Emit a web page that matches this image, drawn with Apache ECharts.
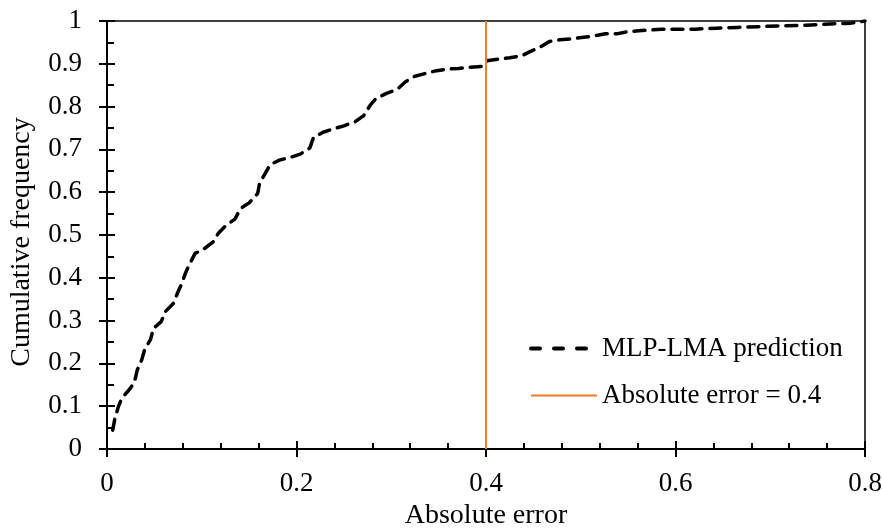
<!DOCTYPE html>
<html><head><meta charset="utf-8">
<script src="https://cdn.jsdelivr.net/npm/echarts@6/dist/echarts.min.js"></script>
<style>html,body{margin:0;padding:0;background:#fff}#c{width:882px;height:528px}</style>
</head><body><div id="c"></div>
<script>
const errX = [0.006,0.0084,0.012,0.0155,0.0236,0.0288,0.032,0.0366,0.040,0.046,0.049,0.057,0.062,0.070,0.0745,0.079,0.083,0.0876,0.093,0.102,0.112,0.1175,0.126,0.135,0.141,0.150,0.159,0.161,0.167,0.172,0.182,0.193,0.204,0.214,0.218,0.228,0.239,0.250,0.262,0.271,0.278,0.284,0.295,0.306,0.315,0.325,0.337,0.348,0.360,0.371,0.383,0.396,0.401,0.413,0.425,0.438,0.446,0.457,0.467,0.478,0.490,0.503,0.514,0.526,0.538,0.549,0.561,0.573,0.585,0.60,0.621,0.643,0.666,0.69,0.714,0.738,0.763,0.785,0.80];
const cumFreq = [0.044,0.072,0.099,0.118,0.139,0.155,0.185,0.208,0.234,0.256,0.282,0.297,0.322,0.340,0.365,0.387,0.412,0.434,0.457,0.467,0.484,0.504,0.523,0.537,0.562,0.575,0.597,0.621,0.644,0.664,0.675,0.681,0.689,0.703,0.728,0.740,0.748,0.755,0.765,0.779,0.804,0.819,0.831,0.840,0.858,0.871,0.878,0.884,0.888,0.889,0.892,0.894,0.907,0.911,0.914,0.919,0.928,0.939,0.952,0.956,0.958,0.962,0.965,0.970,0.970,0.975,0.977,0.979,0.981,0.981,0.981,0.983,0.985,0.987,0.989,0.990,0.993,0.995,1.0];
const thresholdX = [0.4, 0.4];
const thresholdY = [0, 1];
const xTicks = ['0','0.2','0.4','0.6','0.8'];
const seriesNames = ['MLP-LMA prediction','Absolute error = 0.4'];

const font = '"Liberation Serif", "Times New Roman", serif';
const tickLine = {color:'#000',width:2};
const chart = echarts.init(document.getElementById('c'), null, {renderer:'canvas'});
chart.setOption({
  animation:false,
  backgroundColor:'#fff',
  textStyle:{fontFamily:font},
  grid:{left:107,right:17,top:21,bottom:79,containLabel:false,outerBoundsMode:'none',
        show:true,borderColor:'#000',borderWidth:1.5,backgroundColor:'transparent'},
  legend:{
    show:true, orient:'vertical', left:524, top:330, itemWidth:66, itemHeight:14, itemGap:20,
    itemStyle:{opacity:0},
    textStyle:{fontFamily:font,fontSize:27,color:'#000'},
    data:[
      {name:seriesNames[0], lineStyle:{width:4,type:[9,14],color:'#000'}},
      {name:seriesNames[1], lineStyle:{width:2,color:'#ED7D31'}}
    ]
  },
  xAxis:[{
    type:'value', min:0, max:0.8, interval:0.2,
    name:'Absolute error', nameLocation:'middle', nameGap:53,
    nameTextStyle:{fontFamily:font,fontSize:28,color:'#000'},
    axisLine:{lineStyle:{color:'#000',width:2}},
    axisTick:{inside:true,length:8,lineStyle:tickLine},
    minorTick:{show:true,splitNumber:5,length:6,lineStyle:tickLine},
    splitLine:{show:false},
    axisLabel:{fontFamily:font,fontSize:27,color:'#000',margin:21,formatter:v=>xTicks[Math.round(v/0.2)]}
  },{
    type:'value', min:0, max:0.8, interval:0.2, position:'bottom',
    axisLine:{show:false}, axisLabel:{show:false}, splitLine:{show:false},
    axisTick:{inside:false,length:8,lineStyle:tickLine}
  }],
  yAxis:[{
    type:'value', min:0, max:1, interval:0.1,
    name:'Cumulative frequency', nameLocation:'middle', nameGap:71,
    nameTextStyle:{fontFamily:font,fontSize:28,color:'#000',padding:[0,14,0,0]},
    axisLine:{lineStyle:{color:'#000',width:2}},
    axisTick:{inside:true,length:8,lineStyle:tickLine},
    minorTick:{show:true,splitNumber:2,length:7,lineStyle:tickLine},
    splitLine:{show:false},
    axisLabel:{fontFamily:font,fontSize:27,color:'#000',margin:25,formatter:v=>String(Math.round(v*10)/10)}
  },{
    type:'value', min:0, max:1, interval:0.1, position:'left',
    axisLine:{show:false}, axisLabel:{show:false}, splitLine:{show:false},
    axisTick:{inside:false,length:8,lineStyle:tickLine}
  }],
  series:[
    {name:seriesNames[0],type:'line',showSymbol:false,symbol:'none',smooth:false,
     data:errX.map((x,i)=>[x,cumFreq[i]]),
     lineStyle:{color:'#000',width:3.5,type:[11,8],cap:'round'},itemStyle:{color:'#000'}},
    {name:seriesNames[1],type:'line',showSymbol:false,symbol:'none',
     data:thresholdX.map((x,i)=>[x,thresholdY[i]]),
     lineStyle:{color:'#ED7D31',width:2},itemStyle:{color:'#ED7D31'}}
  ]
});
</script></body></html>
